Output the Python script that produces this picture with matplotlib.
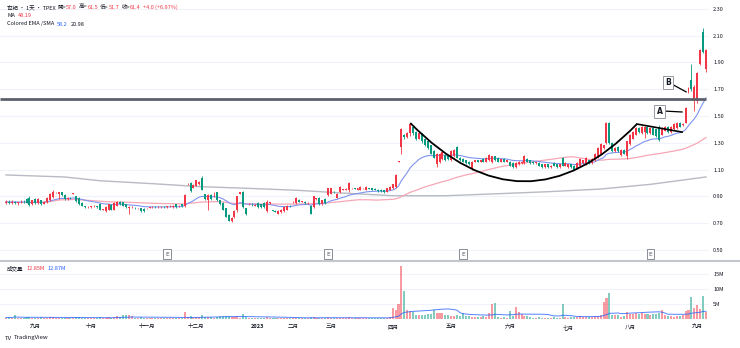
import numpy as np
import pandas as pd
import matplotlib
matplotlib.use("Agg")
import matplotlib.pyplot as plt
from matplotlib.path import Path
from matplotlib.patches import PathPatch
from matplotlib.lines import Line2D
from matplotlib.transforms import blended_transform_factory

plt.rcParams['font.family'] = ['Noto Sans CJK SC', 'DejaVu Sans']

# 日K数据 (每行10根)
opens = [
    0.85, 0.86, 0.85, 0.86, 0.85, 0.855, 0.86, 0.88, 0.89, 0.84,
    0.88, 0.85, 0.87, 0.845, 0.855, 0.87, 0.895, 0.93, 0.92, 0.93,
    0.91, 0.88, 0.89, 0.92, 0.90, 0.89, 0.85, 0.825, 0.82, 0.82,
    0.825, 0.825, 0.845, 0.80, 0.79, 0.80, 0.835, 0.80, 0.83, 0.86,
    0.855, 0.84, 0.81, 0.82, 0.815, 0.81, 0.81, 0.805, 0.81, 0.815,
    0.82, 0.82, 0.818, 0.82, 0.82, 0.82, 0.825, 0.82, 0.84, 0.825,
    0.84, 0.825, 0.99, 1.00, 0.965, 0.98, 0.99, 1.04, 0.915, 0.87,
    0.91, 0.90, 0.93, 0.87, 0.85, 0.81, 0.76, 0.72, 0.745, 0.795,
    0.92, 0.93, 0.81, 0.84, 0.845, 0.83, 0.85, 0.84, 0.85, 0.79,
    0.85, 0.795, 0.79, 0.77, 0.78, 0.79, 0.80, 0.83, 0.855, 0.85,
    0.875, 0.86, 0.86, 0.85, 0.83, 0.82, 0.88, 0.89, 0.84, 0.88,
    0.91, 0.92, 0.935, 0.89, 0.93, 0.95, 0.95, 0.945, 0.96, 0.96,
    0.95, 0.95, 0.96, 0.95, 0.96, 0.96, 0.955, 0.95, 0.95, 0.945,
    0.935, 0.95, 0.96, 0.97, 1.16, 1.27, 1.36, 1.34, 1.37, 1.42,
    1.38, 1.33, 1.37, 1.33, 1.31, 1.28, 1.24, 1.14, 1.16, 1.18,
    1.21, 1.20, 1.17, 1.20, 1.27, 1.19, 1.18, 1.17, 1.16, 1.11,
    1.16, 1.17, 1.16, 1.18, 1.16, 1.17, 1.16, 1.20, 1.19, 1.16,
    1.18, 1.16, 1.16, 1.15, 1.12, 1.14, 1.15, 1.15, 1.18, 1.17,
    1.16, 1.15, 1.15, 1.14, 1.12, 1.14, 1.12, 1.15, 1.14, 1.12,
    1.19, 1.13, 1.12, 1.14, 1.13, 1.11, 1.13, 1.15, 1.14, 1.17,
    1.15, 1.17, 1.20, 1.22, 1.26, 1.30, 1.45, 1.30, 1.24, 1.27,
    1.21, 1.25, 1.20, 1.29, 1.33, 1.36, 1.41, 1.37, 1.38, 1.42,
    1.37, 1.41, 1.40, 1.42, 1.36, 1.39, 1.42, 1.38, 1.40, 1.41,
    1.45, 1.43, 1.45, 1.68, 1.77, 1.61, 1.61, 1.89, 2.13, 1.85,
]
highs = [
    0.87, 0.87, 0.87, 0.865, 0.86, 0.87, 0.87, 0.89, 0.90, 0.875,
    0.885, 0.885, 0.875, 0.865, 0.895, 0.925, 0.95, 0.935, 0.935, 0.935,
    0.915, 0.895, 0.895, 0.925, 0.905, 0.895, 0.855, 0.83, 0.825, 0.83,
    0.835, 0.83, 0.85, 0.805, 0.825, 0.845, 0.84, 0.855, 0.865, 0.865,
    0.86, 0.845, 0.825, 0.825, 0.82, 0.815, 0.815, 0.81, 0.815, 0.82,
    0.825, 0.825, 0.825, 0.825, 0.825, 0.828, 0.835, 0.835, 0.845, 0.835,
    0.845, 0.915, 1.0, 1.005, 0.99, 1.025, 1.015, 1.05, 0.92, 0.915,
    0.915, 0.93, 0.935, 0.875, 0.855, 0.815, 0.765, 0.745, 0.80, 0.905,
    0.935, 0.94, 0.815, 0.85, 0.85, 0.84, 0.855, 0.845, 0.855, 0.87,
    0.86, 0.80, 0.795, 0.795, 0.805, 0.825, 0.835, 0.835, 0.865, 0.895,
    0.88, 0.865, 0.865, 0.855, 0.835, 0.905, 0.89, 0.895, 0.875, 0.885,
    0.965, 0.965, 0.94, 0.925, 0.975, 0.955, 0.96, 1.01, 0.965, 0.965,
    0.965, 0.975, 0.965, 0.975, 0.965, 0.965, 0.96, 0.955, 0.955, 0.95,
    0.965, 0.975, 0.995, 1.07, 1.165, 1.41, 1.365, 1.38, 1.45, 1.43,
    1.385, 1.375, 1.375, 1.335, 1.315, 1.285, 1.245, 1.225, 1.225, 1.235,
    1.215, 1.205, 1.245, 1.255, 1.275, 1.195, 1.185, 1.175, 1.165, 1.165,
    1.175, 1.175, 1.175, 1.185, 1.195, 1.215, 1.205, 1.205, 1.195, 1.185,
    1.185, 1.175, 1.165, 1.155, 1.155, 1.165, 1.165, 1.21, 1.185, 1.175,
    1.165, 1.155, 1.155, 1.145, 1.145, 1.145, 1.135, 1.155, 1.145, 1.145,
    1.195, 1.155, 1.145, 1.145, 1.135, 1.155, 1.185, 1.175, 1.195, 1.175,
    1.185, 1.225, 1.265, 1.295, 1.285, 1.455, 1.455, 1.305, 1.265, 1.275,
    1.255, 1.255, 1.315, 1.365, 1.385, 1.415, 1.415, 1.425, 1.425, 1.425,
    1.415, 1.415, 1.405, 1.43, 1.415, 1.425, 1.425, 1.425, 1.445, 1.455,
    1.455, 1.445, 1.565, 1.72, 1.89, 1.73, 1.83, 2.00, 2.16, 2.00,
]
lows = [
    0.84, 0.84, 0.84, 0.845, 0.835, 0.85, 0.85, 0.85, 0.83, 0.835,
    0.845, 0.845, 0.835, 0.84, 0.85, 0.865, 0.89, 0.925, 0.88, 0.905,
    0.875, 0.875, 0.88, 0.915, 0.86, 0.835, 0.825, 0.815, 0.815, 0.815,
    0.82, 0.815, 0.795, 0.795, 0.78, 0.795, 0.795, 0.795, 0.825, 0.835,
    0.825, 0.815, 0.77, 0.815, 0.805, 0.805, 0.785, 0.785, 0.805, 0.81,
    0.815, 0.815, 0.815, 0.815, 0.815, 0.815, 0.82, 0.815, 0.815, 0.82,
    0.82, 0.82, 0.985, 0.935, 0.96, 0.975, 0.985, 0.945, 0.875, 0.80,
    0.875, 0.895, 0.865, 0.835, 0.795, 0.745, 0.715, 0.71, 0.74, 0.785,
    0.915, 0.81, 0.76, 0.835, 0.83, 0.825, 0.815, 0.815, 0.815, 0.78,
    0.845, 0.79, 0.78, 0.765, 0.775, 0.785, 0.795, 0.82, 0.85, 0.845,
    0.855, 0.855, 0.845, 0.845, 0.765, 0.815, 0.875, 0.835, 0.835, 0.845,
    0.905, 0.915, 0.925, 0.885, 0.925, 0.945, 0.945, 0.935, 0.955, 0.955,
    0.945, 0.945, 0.955, 0.945, 0.955, 0.945, 0.945, 0.935, 0.935, 0.925,
    0.93, 0.945, 0.955, 0.96, 1.155, 1.22, 1.33, 1.335, 1.35, 1.36,
    1.32, 1.325, 1.30, 1.275, 1.255, 1.215, 1.185, 1.12, 1.15, 1.175,
    1.165, 1.175, 1.165, 1.195, 1.185, 1.165, 1.155, 1.145, 1.135, 1.10,
    1.155, 1.155, 1.155, 1.155, 1.155, 1.165, 1.15, 1.165, 1.155, 1.155,
    1.155, 1.155, 1.125, 1.115, 1.115, 1.135, 1.145, 1.145, 1.155, 1.145,
    1.145, 1.145, 1.125, 1.115, 1.115, 1.115, 1.115, 1.125, 1.115, 1.115,
    1.125, 1.125, 1.115, 1.115, 1.095, 1.105, 1.125, 1.145, 1.135, 1.145,
    1.145, 1.165, 1.19, 1.215, 1.255, 1.29, 1.29, 1.23, 1.235, 1.235,
    1.20, 1.215, 1.18, 1.285, 1.325, 1.355, 1.375, 1.365, 1.335, 1.365,
    1.365, 1.355, 1.345, 1.31, 1.355, 1.385, 1.375, 1.375, 1.395, 1.405,
    1.415, 1.425, 1.445, 1.67, 1.69, 1.54, 1.60, 1.88, 1.97, 1.83,
]
closes = [
    0.86, 0.85, 0.86, 0.85, 0.855, 0.86, 0.855, 0.85, 0.835, 0.87,
    0.85, 0.88, 0.84, 0.86, 0.89, 0.92, 0.93, 0.932, 0.93, 0.91,
    0.88, 0.89, 0.885, 0.92, 0.865, 0.84, 0.83, 0.82, 0.822, 0.825,
    0.83, 0.82, 0.80, 0.802, 0.82, 0.84, 0.80, 0.85, 0.86, 0.84,
    0.83, 0.82, 0.82, 0.822, 0.81, 0.812, 0.79, 0.79, 0.812, 0.818,
    0.822, 0.818, 0.822, 0.82, 0.818, 0.825, 0.83, 0.832, 0.82, 0.83,
    0.825, 0.91, 0.995, 0.94, 0.985, 1.02, 1.01, 0.95, 0.88, 0.91,
    0.88, 0.905, 0.87, 0.84, 0.80, 0.75, 0.72, 0.74, 0.79, 0.90,
    0.93, 0.82, 0.77, 0.845, 0.84, 0.835, 0.82, 0.82, 0.82, 0.86,
    0.855, 0.792, 0.785, 0.79, 0.80, 0.82, 0.83, 0.825, 0.86, 0.89,
    0.86, 0.862, 0.85, 0.852, 0.77, 0.90, 0.885, 0.84, 0.87, 0.85,
    0.96, 0.96, 0.93, 0.92, 0.97, 0.952, 0.955, 1.00, 0.962, 0.958,
    0.96, 0.97, 0.962, 0.97, 0.958, 0.95, 0.948, 0.94, 0.94, 0.93,
    0.96, 0.97, 0.99, 1.06, 1.162, 1.40, 1.34, 1.37, 1.44, 1.37,
    1.33, 1.37, 1.31, 1.28, 1.26, 1.22, 1.19, 1.22, 1.22, 1.23,
    1.17, 1.18, 1.24, 1.25, 1.19, 1.17, 1.16, 1.15, 1.14, 1.16,
    1.17, 1.16, 1.17, 1.16, 1.19, 1.21, 1.20, 1.17, 1.16, 1.18,
    1.16, 1.17, 1.13, 1.12, 1.15, 1.16, 1.16, 1.20, 1.16, 1.15,
    1.15, 1.152, 1.13, 1.12, 1.14, 1.12, 1.13, 1.13, 1.12, 1.14,
    1.13, 1.15, 1.14, 1.12, 1.10, 1.15, 1.18, 1.17, 1.19, 1.15,
    1.18, 1.22, 1.26, 1.29, 1.28, 1.45, 1.30, 1.24, 1.26, 1.24,
    1.25, 1.22, 1.31, 1.36, 1.38, 1.41, 1.38, 1.42, 1.42, 1.37,
    1.41, 1.36, 1.35, 1.32, 1.41, 1.42, 1.38, 1.42, 1.44, 1.45,
    1.42, 1.44, 1.56, 1.71, 1.70, 1.72, 1.82, 1.99, 1.98, 1.99,
]
# 成交量 (百万)
volumes = [
    0.5, 0.6, 0.4, 1.2, 0.5, 0.4, 0.5, 0.6, 0.8, 0.5,
    0.5, 0.4, 0.6, 0.4, 0.5, 0.7, 0.8, 0.3, 0.5, 0.4,
    0.5, 0.4, 0.3, 0.3, 0.6, 0.7, 0.5, 0.3, 0.3, 0.3,
    0.4, 0.3, 0.6, 0.3, 0.5, 0.6, 0.4, 0.8, 0.9, 0.7,
    1.4, 1.5, 1.2, 1.0, 0.5, 0.3, 0.6, 0.5, 0.3, 0.3,
    0.3, 0.3, 0.3, 0.3, 0.3, 0.3, 0.4, 0.4, 0.5, 0.4,
    0.5, 2.2, 0.6, 1.0, 0.5, 0.8, 0.6, 1.2, 0.7, 0.8,
    0.6, 0.5, 0.8, 0.9, 1.0, 1.1, 1.0, 0.7, 0.6, 0.9,
    0.5, 1.6, 0.8, 0.4, 0.3, 0.3, 0.5, 0.5, 0.5, 0.7,
    0.4, 0.4, 0.3, 0.3, 0.4, 0.4, 0.5, 0.3, 0.3, 0.5,
    0.4, 0.3, 0.3, 0.3, 0.6, 0.8, 0.4, 0.5, 0.4, 0.4,
    0.6, 0.5, 0.4, 0.4, 0.5, 0.3, 0.3, 0.6, 0.3, 0.3,
    0.3, 0.4, 0.3, 0.4, 0.3, 0.3, 0.3, 0.4, 0.3, 0.4,
    0.5, 0.8, 3.6, 2.9, 5.1, 17.7, 9.3, 3.2, 2.6, 2.3,
    1.4, 1.4, 1.4, 1.4, 1.8, 1.8, 3.1, 2.1, 1.9, 2.1,
    1.4, 1.2, 1.1, 1.0, 1.2, 1.1, 2.0, 1.0, 0.9, 0.7,
    0.6, 0.8, 0.6, 0.9, 0.8, 1.9, 5.0, 5.4, 0.8, 0.5,
    0.6, 0.5, 2.7, 0.9, 4.2, 2.5, 1.8, 1.0, 0.9, 0.6,
    0.5, 0.4, 0.6, 0.5, 0.4, 0.5, 0.4, 0.6, 0.5, 0.4,
    5.0, 0.6, 0.5, 0.6, 0.8, 0.7, 0.9, 0.6, 0.8, 0.6,
    0.7, 0.9, 1.0, 1.3, 5.7, 7.1, 8.8, 1.3, 1.2, 1.3,
    0.8, 0.9, 2.3, 1.8, 1.6, 1.9, 1.7, 2.0, 1.6, 1.8,
    1.5, 1.7, 1.6, 1.9, 3.0, 1.2, 0.9, 1.1, 0.8, 1.0,
    1.1, 1.2, 2.7, 3.2, 7.3, 3.6, 4.6, 3.5, 7.6, 2.3,
]

# 长期均线 (灰线) 取样点
long_ma_idx = [0, 20, 32, 50, 66, 83, 100, 115, 132, 150, 168, 185, 203, 220, 239]
long_ma_val = [1.06, 1.045, 1.017, 0.995, 0.973, 0.96, 0.945, 0.925, 0.905,
               0.905, 0.92, 0.935, 0.955, 0.99, 1.045]

month_pos = [10, 29, 48, 65, 86, 98, 111, 132, 152, 172, 192, 213, 236]
month_labels = ['九月', '十月', '十一月', '十二月', '2023', '二月', '三月', '四月',
                '五月', '六月', '七月', '八月', '九月']
price_ticks = [0.50, 0.70, 0.90, 1.10, 1.30, 1.50, 1.70, 1.90, 2.10, 2.30]
vol_ticks = [5, 10, 15]
earnings_idx = [55, 110, 156, 220]

# 画线: 阻力线, 杯, 柄, A/B 标注
resist_level = 1.63
cup_pts = [(138, 1.448), (177, 0.58), (215.4, 1.44)]
handle_pts = [(215.4, 1.44), (230.8, 1.38)]
note_text = ['A', 'B']
note_xy = [(223.1, 1.534), (226.0, 1.75)]
note_from = [(224.6, 1.537), (227.9, 1.731)]
note_to = [(230.8, 1.530), (232.2, 1.68)]

UP = '#f23645'
DOWN = '#089981'
TXT = '#131722'
W, H = 740, 348
FS = 4.0


def px_rect(x0, y0, x1, y1):
    return [x0 / W, 1 - y1 / H, (x1 - x0) / W, (y1 - y0) / H]


def draw_pieces(fig, x_px, y_px, pieces, size):
    renderer = fig.canvas.get_renderer()
    x = x_px
    for txt, col, gap in pieces:
        t = fig.text(x / W, 1 - y_px / H, txt, color=col, fontsize=size,
                     va='center', ha='left')
        x += t.get_window_extent(renderer=renderer).width + gap


o = np.array(opens)
h = np.array(highs)
l = np.array(lows)
c = np.array(closes)
v = np.array(volumes)
idx = np.arange(len(c))
up = c >= o
colors = np.where(up, UP, DOWN)

ema20 = pd.Series(c).ewm(span=20, adjust=False).mean()
sma60 = pd.Series(c).rolling(60, min_periods=1).mean()
vol_ma = pd.Series(v).rolling(20, min_periods=1).mean()

fig = plt.figure(figsize=(7.4, 3.48), dpi=100)
ax = fig.add_axes(px_rect(0, 0, 709, 260))
axv = fig.add_axes(px_rect(0, 261, 709, 320), sharex=ax)

# 价格区
ax.set_xlim(-2.05, 240.0)
ax.set_ylim(0.4254, 2.3657)
for y in price_ticks:
    ax.axhline(y, color='#f0f3fa', lw=0.8, zorder=0)

ax.plot(long_ma_idx, long_ma_val, color='#b8bbc3', lw=1.0, zorder=1)
ax.plot(idx, sma60, color='#f7a7b6', lw=0.9, zorder=1)
ax.plot(idx, ema20, color='#7f93f0', lw=0.8, zorder=1)

ax.vlines(idx, l, h, colors=colors, lw=0.6, zorder=2)
body = np.maximum(np.abs(c - o), 0.004)
ax.bar(idx, body, bottom=np.minimum(o, c), width=0.68, color=colors,
       linewidth=0, zorder=3)

ax.hlines(resist_level, -2.05, 239, color='#5d606b', lw=2.0, zorder=4)
cup = Path(cup_pts, [Path.MOVETO, Path.CURVE3, Path.CURVE3])
ax.add_patch(PathPatch(cup, facecolor='none', edgecolor='black', lw=1.3, zorder=4))
ax.plot(*zip(*handle_pts), color='black', lw=1.2, zorder=4)

for txt, (tx, ty), p0, p1 in zip(note_text, note_xy, note_from, note_to):
    ax.plot([p0[0], p1[0]], [p0[1], p1[1]], color='black', lw=0.9, zorder=4)
    ax.text(tx, ty, txt, fontsize=5.5, fontweight='bold', color=TXT,
            ha='center', va='center', zorder=5, family='DejaVu Sans',
            bbox=dict(boxstyle='square,pad=0.3', fc='white', ec='#9598a1', lw=0.7))

trans = blended_transform_factory(ax.transData, ax.transAxes)
for e in earnings_idx:
    ax.text(e, 0.023, 'E', transform=trans, fontsize=4.2, color='#50535e',
            ha='center', va='center', family='DejaVu Sans',
            bbox=dict(boxstyle='square,pad=0.35', fc='white', ec='#787b86', lw=0.6))

ax.yaxis.tick_right()
ax.set_yticks(price_ticks)
ax.set_yticklabels([f'{t:.2f}' for t in price_ticks])
ax.tick_params(axis='y', length=0, pad=3, labelsize=FS, labelcolor=TXT)
ax.tick_params(axis='x', length=0, labelbottom=False)
for s in ax.spines.values():
    s.set_visible(False)

# 成交量区
axv.set_ylim(-0.337, 19.55)
for y in vol_ticks:
    axv.axhline(y, color='#f0f3fa', lw=0.8, zorder=0)
axv.bar(idx, v, width=0.7, color=colors, alpha=0.5, linewidth=0, zorder=2)
axv.plot(idx, vol_ma, color='#2962ff', lw=0.7, alpha=0.8, zorder=3)
axv.yaxis.tick_right()
axv.set_yticks(vol_ticks)
axv.set_yticklabels([f'{t}M' for t in vol_ticks])
axv.tick_params(axis='y', length=0, pad=3, labelsize=FS, labelcolor=TXT)
axv.set_xticks(month_pos)
axv.set_xticklabels(month_labels)
axv.tick_params(axis='x', length=0, pad=3, labelsize=FS, labelcolor=TXT)
for lab in axv.get_xticklabels():
    if lab.get_text() == '2023':
        lab.set_fontweight('bold')
for s in axv.spines.values():
    s.set_visible(False)

fig.add_artist(Line2D([0, 1], [1 - 260.5 / H] * 2, color='#c3c6cd', lw=1.5))

# 图例文字
draw_pieces(fig, 7, 7.5, [
    ('世紀 · 1天 · TPEX', TXT, 2), ('開=', TXT, 0), ('57.0', UP, 2),
    ('高=', TXT, 0), ('61.5', UP, 2), ('低=', TXT, 0), ('51.7', UP, 2),
    ('收=', TXT, 0), ('61.4', UP, 2), ('+4.0 (+6.97%)', UP, 0)], FS)
draw_pieces(fig, 7, 15.5, [('MA', TXT, 3), ('48.19', UP, 0)], FS)
draw_pieces(fig, 7, 24, [('Colored EMA /SMA', TXT, 3), ('58.2', '#2962ff', 3),
                         ('20.98', TXT, 0)], FS)
draw_pieces(fig, 7, 268, [('成交量', TXT, 3), ('12.85M', UP, 3),
                          ('12.87M', '#2962ff', 0)], FS)
draw_pieces(fig, 5, 338, [('TV', TXT, 2), ('TradingView', TXT, 0)], 4.3)

fig.savefig('out.png', dpi=100, facecolor='white')
